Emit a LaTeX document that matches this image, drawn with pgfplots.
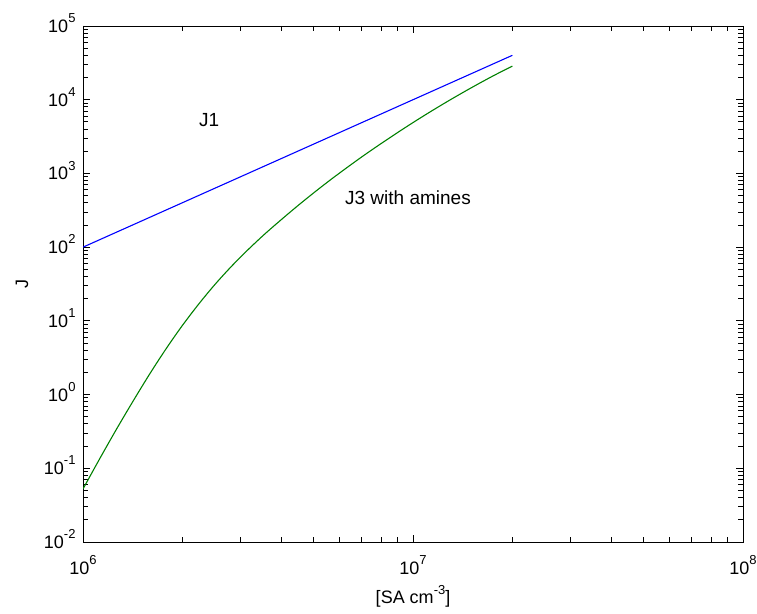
\documentclass[border=0pt]{standalone}
\usepackage{fontspec}
\setmainfont{Liberation Sans}
\usepackage{pgfplots}
\pgfplotsset{compat=1.18}
\definecolor{mblue}{rgb}{0,0,1}
\definecolor{mgreen}{rgb}{0,0.5,0}
\newcommand\tl[1]{10\raisebox{0.55em}{\fontsize{13}{13}\selectfont #1}}
\begin{document}
\begin{tikzpicture}[x=1pt,y=1pt]
\useasboundingbox (-83,-71) rectangle (674,542);
\begin{axis}[
  at={(0,0)}, anchor=south west,
  scale only axis, width=660pt, height=516pt,
  xmode=log, ymode=log,
  xmin=1e6, xmax=1e8, ymin=1e-2, ymax=1e5,
  xtick={1e6,1e7,1e8},
  xticklabels={\tl{6},\tl{7},\tl{8}},
  ytick={1e-2,1e-1,1e0,1e1,1e2,1e3,1e4,1e5},
  yticklabels={\tl{-2},\tl{-1},\tl{0},\tl{1},\tl{2},\tl{3},\tl{4},\tl{5}},
  tick align=inside,
  major tick length=7pt, minor tick length=5pt,
  tick style={black, line width=0.9pt},
  axis line style={line width=0.9pt},
  ticklabel style={font=\fontsize{18}{18}\selectfont},
  yticklabel style={anchor=base east, yshift=-6.5pt, xshift=-4pt},
  xticklabel style={anchor=base, yshift=-32pt},
  xlabel={[SA cm\raisebox{0.55em}{\fontsize{13}{13}\selectfont -3}]},
  ylabel={J},
  label style={font=\fontsize{18}{18}\selectfont},
  xlabel style={at={(axis description cs:0.5,-0.120)}, anchor=base},
  ylabel style={at={(axis description cs:-0.0924,0.5)}, anchor=center},
  clip=true,
]
\addplot[mblue, line width=1.1pt] coordinates {
  (1e6,100) (2e6,400) (5e6,2500) (1e7,10000) (2e7,40000)
};
\addplot[mgreen, line width=1.1pt, smooth, tension=0.5] coordinates {
  (1.000e6,0.0525) (1.122e6,0.1334) (1.259e6,0.331) (1.413e6,0.794)
  (1.585e6,1.841) (1.778e6,4.07) (1.995e6,8.51) (2.239e6,16.79)
  (2.512e6,31.26) (2.818e6,54.95) (3.162e6,92.3) (3.548e6,149.6)
  (3.981e6,234.4) (4.467e6,362.2) (5.012e6,549.5) (5.623e6,819.6)
  (6.310e6,1202) (7.079e6,1742) (7.943e6,2483) (8.913e6,3508)
  (1.0e7,4898) (1.122e7,6761) (1.259e7,9226) (1.413e7,12450)
  (1.585e7,16600) (1.778e7,21880) (2.0e7,28510)
};
\node[anchor=base west, inner sep=0, font=\fontsize{19}{19}\selectfont] at (axis cs:2.246e6,4276) {J1};
\node[anchor=base west, inner sep=0, font=\fontsize{19}{19}\selectfont] at (axis cs:6.22e6,374) {J3 with amines};
\end{axis}
\end{tikzpicture}
\end{document}
